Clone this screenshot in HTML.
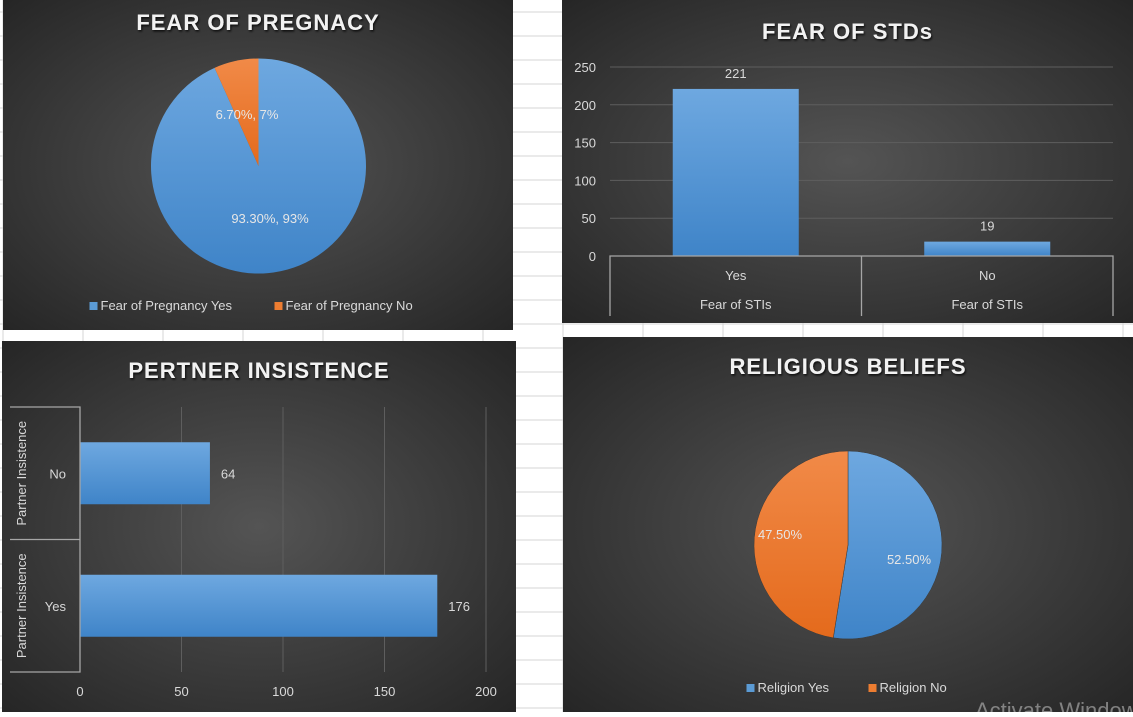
<!DOCTYPE html>
<html><head><meta charset="utf-8">
<style>
html,body{margin:0;padding:0;}
body{width:1133px;height:712px;overflow:hidden;background:#fff;font-family:"Liberation Sans",sans-serif;}
svg text{font-family:"Liberation Sans",sans-serif;}
</style></head>
<body>
<svg id="root" width="1133" height="712" viewBox="0 0 1133 712" xmlns="http://www.w3.org/2000/svg">
<defs>
<radialGradient id="bg" cx="50%" cy="50%" r="70%">
<stop offset="0" stop-color="#545454"/><stop offset="1" stop-color="#262626"/>
</radialGradient>
<linearGradient id="blueV" x1="0" y1="0" x2="0" y2="1">
<stop offset="0" stop-color="#6ea8e0"/><stop offset="1" stop-color="#3f84c8"/>
</linearGradient>
<linearGradient id="orangeV" x1="0" y1="0" x2="0" y2="1">
<stop offset="0" stop-color="#f18a48"/><stop offset="1" stop-color="#e46a1c"/>
</linearGradient>
<filter id="ts"><feDropShadow dx="1" dy="1.5" stdDeviation="1" flood-color="#000" flood-opacity="0.8"/></filter>
</defs>
<g id="grid"></g>
<g id="p1"></g>
<g id="p2"></g>
<g id="p3"></g>
<g id="p4"></g>
<text x="975" y="718" font-size="22" fill="#bbb" opacity="0.6">Activate Windows</text>
</svg>
<script>
// data
const pregLabels = ["Fear of Pregnancy Yes","Fear of Pregnancy No"];
const pregValues = [93.3, 6.7];
const pregText = ["93.30%, 93%","6.70%, 7%"];
const stdCategories = ["Yes","No"];
const stdValues = [221, 19];
const stdTicks = [0,50,100,150,200,250];
const partnerCategories = ["No","Yes"];
const partnerValues = [64, 176];
const partnerTicks = [0,50,100,150,200];
const relLabels = ["Religion Yes","Religion No"];
const relValues = [52.5, 47.5];
const relText = ["52.50%","47.50%"];

const NS="http://www.w3.org/2000/svg";
function mk(parent,tag,attrs,txt){const e=document.createElementNS(NS,tag);for(const k in attrs)e.setAttribute(k,attrs[k]);if(txt!==undefined)e.textContent=txt;parent.appendChild(e);return e;}

// spreadsheet grid
const grid=document.getElementById('grid');
for(let y=12;y<712;y+=24){const l=mk(grid,'line',{x1:0,x2:1133,y1:y,y2:y,stroke:'#d4d4d4','stroke-width':1});

}
for(let x=3;x<1133;x+=80){const l=mk(grid,'line',{x1:x,x2:x,y1:0,y2:712,stroke:'#d4d4d4','stroke-width':1});

}

function panel(g,x,y,w,h,title,ty){
  const r=mk(g,'rect',{x:x,y:y,width:w,height:h,fill:'url(#bg)'});
  
  
  const t=mk(g,'text',{x:x+w/2,y:ty,'text-anchor':'middle','font-size':22,'font-weight':'bold',fill:'#f2f2f2','letter-spacing':'1',filter:'url(#ts)'},title);
  
  
}
function pie(g,cx,cy,r,vals,fills){
  const tot=vals.reduce((a,b)=>a+b,0);let a0=0;const out=[];
  vals.forEach((v,i)=>{
    const a1=a0+v/tot*2*Math.PI;
    const p=(a)=>[cx+r*Math.sin(a),cy-r*Math.cos(a)];
    const [x0,y0]=p(a0),[x1,y1]=p(a1);
    const large=(a1-a0)>Math.PI?1:0;
    const s=mk(g,'path',{d:`M${cx},${cy}L${x0},${y0}A${r},${r} 0 ${large} 1 ${x1},${y1}Z`,fill:fills[i],stroke:'#3a3a3a','stroke-width':0.5});
    
    
    out.push((a0+a1)/2);a0=a1;
  });
  return out;
}
function legend(g,cx,y,labels,fills){
  let widths=labels.map(l=>l.length*7+18);
  let total=widths.reduce((a,b)=>a+b,0)+20*(labels.length-1);
  let x=cx-total/2;
  labels.forEach((l,i)=>{
    const sq=mk(g,'rect',{x:x,y:y-8,width:8,height:8,fill:fills[i]});
    
    
    const t=mk(g,'text',{x:x+11,y:y,'font-size':13,fill:'#d9d9d9'},l);
    
    
    x+=widths[i]+20;
  });
}

// Panel 1
const p1=document.getElementById('p1');
panel(p1,3,0,510,330,"FEAR OF PREGNACY",30);
// rotate so that second (small) slice ends at 12 o'clock: draw order - orange from -angle to 0
(function(){
  const cx=258.5,cy=166,r=107.5;const tot=pregValues[0]+pregValues[1];
  const smallA=pregValues[1]/tot*2*Math.PI;
  const p=(a)=>[cx+r*Math.sin(a),cy-r*Math.cos(a)];
  const [bx0,by0]=p(0),[bx1,by1]=p(2*Math.PI-smallA);
  const s1=mk(p1,'path',{d:`M${cx},${cy}L${bx0},${by0}A${r},${r} 0 1 1 ${bx1},${by1}Z`,fill:'url(#blueV)'});
  
  
  const s2=mk(p1,'path',{d:`M${cx},${cy}L${bx1},${by1}A${r},${r} 0 0 1 ${bx0},${by0}Z`,fill:'url(#orangeV)'});
  
  
  const l1=mk(p1,'text',{x:270,y:223,'text-anchor':'middle','font-size':13,fill:'#e6e6e6'},pregText[0]);
  
  
  const l2=mk(p1,'text',{x:247,y:119,'text-anchor':'middle','font-size':13,fill:'#e6e6e6'},pregText[1]);
  
  
})();
legend(p1,261,310,pregLabels,['#5b9bd5','#ed7d31']);

// Panel 2
const p2=document.getElementById('p2');
panel(p2,562,0,571,323,"FEAR OF STDs",39);
(function(){
  const x0=610,x1=1113,yZero=256,yTop=67,max=250;
  const ys=v=>yZero-(v/max)*(yZero-yTop);
  stdTicks.forEach(t=>{
    if(t>0){const l=mk(p2,'line',{x1:x0,x2:x1,y1:ys(t),y2:ys(t),stroke:'#5e5e5e','stroke-width':1});
    
    }
    const tx=mk(p2,'text',{x:596,y:ys(t)+5,'text-anchor':'end','font-size':13,fill:'#d9d9d9'},t);
    
    
  });
  const band=(x1-x0)/stdCategories.length,bw=126;
  stdCategories.forEach((c,i)=>{
    const cx=x0+band*(i+0.5);
    const b=mk(p2,'rect',{x:cx-bw/2,y:ys(stdValues[i]),width:bw,height:yZero-ys(stdValues[i]),fill:'url(#blueV)'});
    
    
    const v=mk(p2,'text',{x:cx,y:ys(stdValues[i])-11,'text-anchor':'middle','font-size':13,fill:'#d9d9d9'},stdValues[i]);
    
    
    const t1=mk(p2,'text',{x:cx,y:280,'text-anchor':'middle','font-size':13,fill:'#d9d9d9'},c);
    
    
    const t2=mk(p2,'text',{x:cx,y:309,'text-anchor':'middle','font-size':13,fill:'#d9d9d9'},"Fear of STIs");
    
    
  });
  const ax=mk(p2,'path',{d:`M${x0},316V${yZero}H${x1}V316M${x0+band},${yZero}V316`,fill:'none',stroke:'#a6a6a6','stroke-width':1.3});
  
  
})();

// Panel 3
const p3=document.getElementById('p3');
panel(p3,2,341,514,371,"PERTNER INSISTENCE",378);
(function(){
  const x0=80,xMax=486,max=200,yTop=407,yBot=672;
  const xs=v=>x0+(v/max)*(xMax-x0);
  partnerTicks.forEach(t=>{
    if(t>0){const l=mk(p3,'line',{x1:xs(t),x2:xs(t),y1:yTop,y2:yBot,stroke:'#5e5e5e','stroke-width':1});
    
    }
    const tx=mk(p3,'text',{x:xs(t),y:696,'text-anchor':'middle','font-size':13,fill:'#d9d9d9'},t);
    
    
  });
  const band=(yBot-yTop)/partnerCategories.length,bh=62;
  partnerCategories.forEach((c,i)=>{
    const cy=yTop+band*(i+0.5);
    const b=mk(p3,'rect',{x:x0,y:cy-bh/2,width:xs(partnerValues[i])-x0,height:bh,fill:'url(#blueV)'});
    
    
    const v=mk(p3,'text',{x:xs(partnerValues[i])+11,y:cy+5,'font-size':13,fill:'#d9d9d9'},partnerValues[i]);
    
    
    const t1=mk(p3,'text',{x:66,y:cy+5,'text-anchor':'end','font-size':13,fill:'#d9d9d9'},c);
    
    
    const t2=mk(p3,'text',{x:0,y:0,'text-anchor':'middle','font-size':13,fill:'#d9d9d9',transform:`translate(26,${cy}) rotate(-90)`},"Partner Insistence");
    
    
  });
  const ax=mk(p3,'path',{d:`M10,${yTop}H${x0}V${yBot}H10M10,${yTop+band}H${x0}`,fill:'none',stroke:'#a6a6a6','stroke-width':1.3});
  
  
})();

// Panel 4
const p4=document.getElementById('p4');
panel(p4,563,337,570,375,"RELIGIOUS BELIEFS",374);
(function(){
  const mids=pie(p4,848,545,94,relValues,['url(#blueV)','url(#orangeV)']);
  const pos=[[909,564],[780,539]];
  relText.forEach((t,i)=>{
    const l=mk(p4,'text',{x:pos[i][0],y:pos[i][1],'text-anchor':'middle','font-size':13,fill:'#e6e6e6'},t);
    
    
  });
})();
legend(p4,855,692,relLabels,['#5b9bd5','#ed7d31']);
</script>
</body></html>
